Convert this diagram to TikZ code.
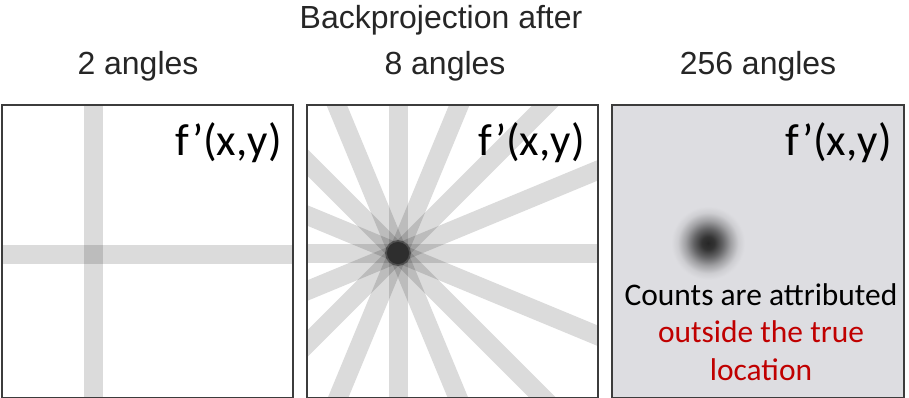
\documentclass[tikz,border=0pt]{standalone}
\usepackage{fontspec}
\setmainfont{Liberation Sans}
\newfontfamily\calibri{Carlito}

\definecolor{panelgray}{RGB}{221,221,225}
\definecolor{notered}{RGB}{192,0,0}
\definecolor{frame}{RGB}{60,60,60}

\pgfdeclareradialshading{blob}{\pgfpoint{0bp}{0bp}}{%
  color(0bp)=(black!85); color(4bp)=(black!80); color(9bp)=(panelgray!45!black);
  color(14bp)=(panelgray!72!black); color(19bp)=(panelgray!93!black);
  color(23bp)=(panelgray); color(25bp)=(panelgray); color(50bp)=(panelgray)}

\tikzset{
  panel/.style={draw=frame,line width=0.8pt},
  band/.style={line width=19*0.02cm,draw=black,draw opacity=0.14},
  heading/.style={anchor=base,font=\fontsize{18.2}{22}\selectfont,text=black!85,inner sep=0pt},
  fxy/.style={anchor=base east,font=\calibri\fontsize{25.6}{30}\selectfont,inner sep=0pt},
}

\begin{document}
\begin{tikzpicture}[x=0.02cm,y=-0.02cm]
\useasboundingbox (0,0) rectangle (909,397);

% headings
\node[heading] (title) at (441,28) {Backprojection after};
\node[heading] (lab2) at (138,74) {2 angles};
\node[heading] (lab8) at (445,74) {8 angles};
\node[heading] (lab256) at (758,74) {256 angles};

% 2 angles
\begin{scope}
\clip (2,105) rectangle (293,398);
\draw[band] (93,105) -- (93,398);
\draw[band] (2,254) -- (293,254);
\end{scope}
\draw[panel] (2,105) rectangle (293,398);
\node[fxy] (fxy1) at (282,155) {f’(x,y)};

% 8 angles
\coordinate (c2) at (398,253);
\begin{scope}
\clip (307,105) rectangle (598,398);
\foreach \a in {0,22.5,...,157.5}
  \draw[band] (c2) ++(\a:320) -- ++(\a:-640);
\fill[black,opacity=0.35] (c2) circle (13);
\fill[black!82] (c2) circle (11);
\end{scope}
\draw[panel] (307,105) rectangle (598,398);
\node[fxy] (fxy2) at (585,155) {f’(x,y)};

% 256 angles
\fill[panelgray] (612,105) rectangle (904,398);
\shade[shading=blob] (708,243) circle (40);
\draw[panel] (612,105) rectangle (904,398);
\node[fxy] (fxy3) at (892,155) {f’(x,y)};
\node[anchor=base,align=center,inner sep=0pt,
      font=\calibri\fontsize{17.9}{21.3}\selectfont] (note) at (761,380)
  {Counts are attributed\\\textcolor{notered}{outside the true}\\\textcolor{notered}{location}};
\end{tikzpicture}
\end{document}
